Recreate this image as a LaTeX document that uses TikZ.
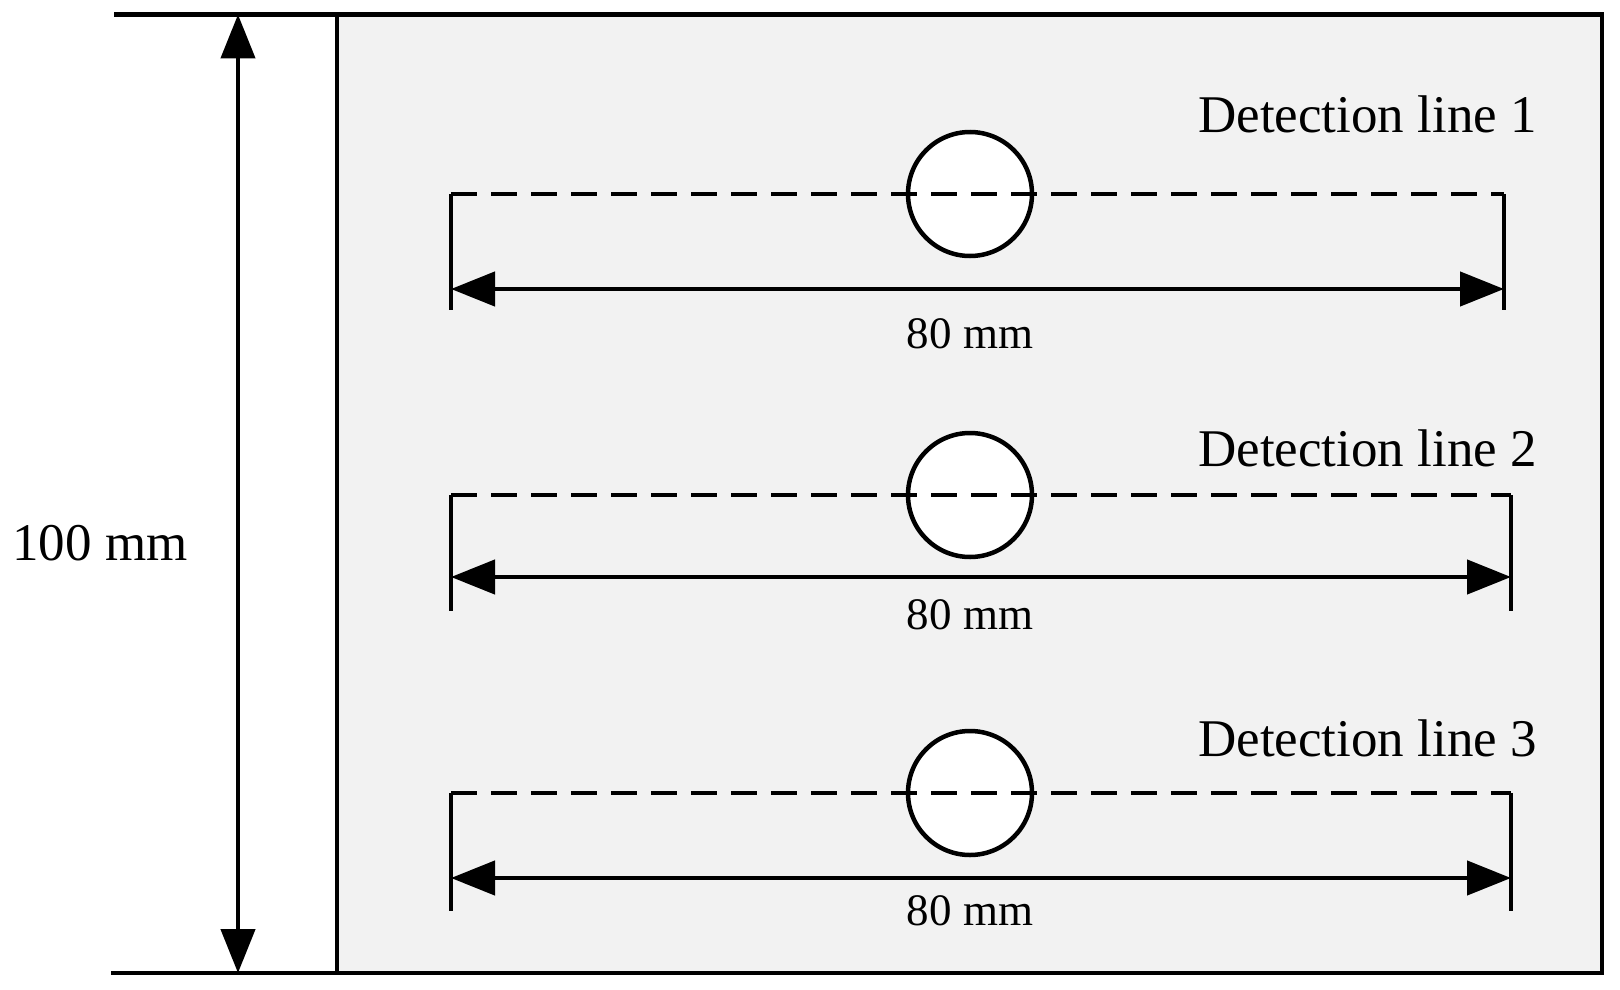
\documentclass[tikz,border=0pt]{standalone}
\usepackage{fontspec}
\setmainfont{Liberation Serif}
\usetikzlibrary{arrows.meta}
\begin{document}
\begin{tikzpicture}[x=1pt,y=-1pt,line width=4.5pt,
  dim/.style={{Triangle[length=44pt,width=34pt]}-{Triangle[length=44pt,width=34pt]}},
  lbl/.style={font=\fontsize{53}{58}\selectfont,inner sep=0pt},
  mm/.style={font=\fontsize{45}{50}\selectfont,inner sep=0pt},
  hole/.style={circle,draw,fill=white,minimum size=124pt,inner sep=0pt}]
\useasboundingbox (0,0) rectangle (1620,990);
\draw[fill=black!5] (337,14.5) rectangle (1602,973);
\coordinate (t1) at (114,14.5); \coordinate (t2) at (337,14.5);
\coordinate (b1) at (111,973); \coordinate (b2) at (337,973);
\draw (t1) -- (t2); \draw (b1) -- (b2);
\coordinate (at) at (238,14.5); \coordinate (ab) at (238,973);
\draw[dim] (at) -- (ab);
\node[lbl] (h) at (100,543) {100 mm};
\foreach \i/\yd/\ya/\yt/\xr/\yl/\ym in {1/194/289/310/1504/114/334, 2/495/577/611/1511/448/615, 3/793/878/911/1511/738/911}{
  \node[hole] (c\i) at (970,\yd) {};
  \coordinate (l\i) at (451,\yd); \coordinate (r\i) at (\xr,\yd);
  \coordinate (lb\i) at (451,\yt); \coordinate (rb\i) at (\xr,\yt);
  \coordinate (la\i) at (451,\ya); \coordinate (ra\i) at (\xr,\ya);
  \draw[dash pattern=on 26pt off 14pt] (l\i) -- (r\i);
  \draw (l\i) -- (lb\i); \draw (r\i) -- (rb\i);
  \draw[dim] (la\i) -- (ra\i);
  \node[mm] (m\i) at (970,\ym) {80 mm};
  \node[lbl,anchor=west] (d\i) at (1196,\yl) {Detection line \i};
}
\end{tikzpicture}
\end{document}
